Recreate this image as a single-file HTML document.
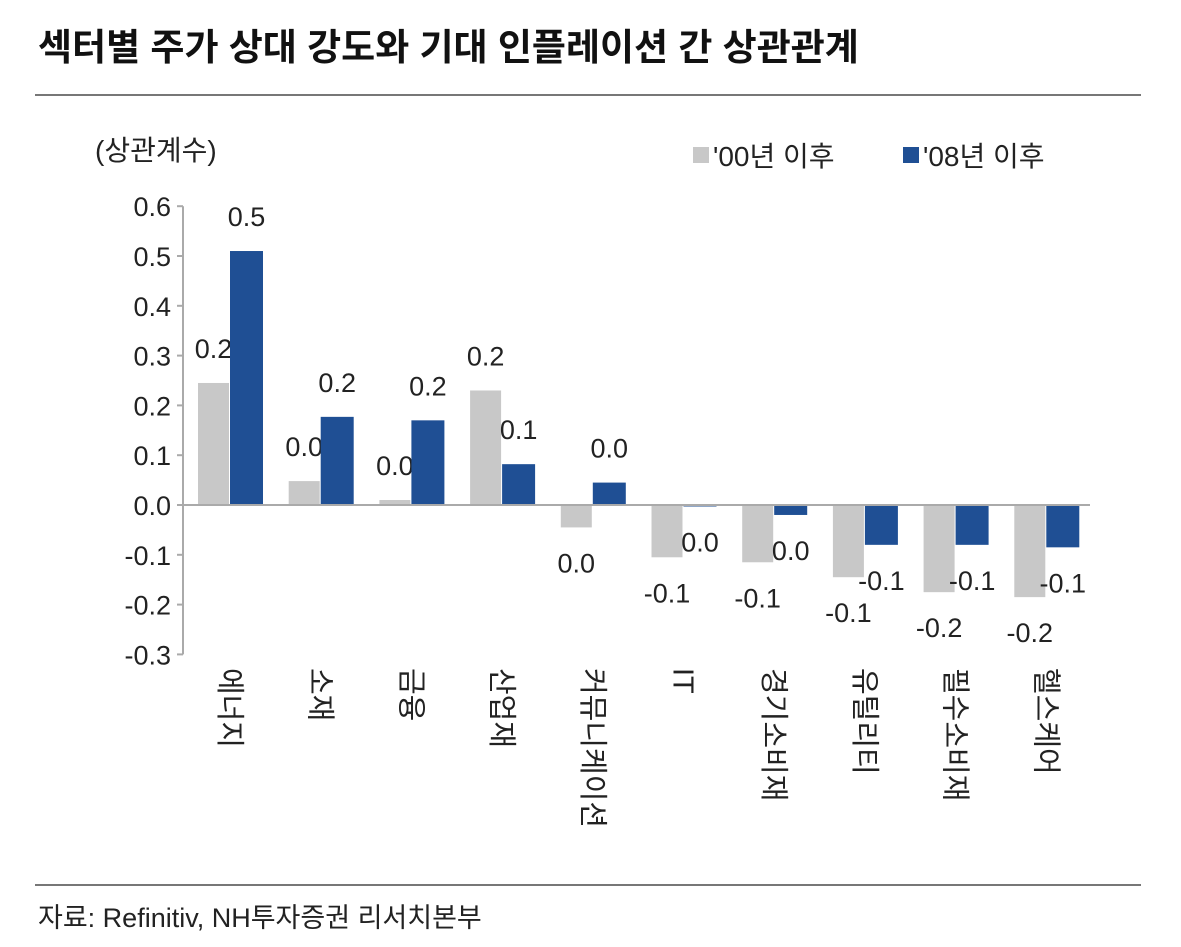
<!DOCTYPE html>
<html><head><meta charset="utf-8"><style>
body{margin:0;background:#fff;width:1181px;height:942px;overflow:hidden;font-family:"Liberation Sans","Noto Sans CJK KR",sans-serif;}
</style></head><body>
<svg width="1181" height="942" style="font-family:'Liberation Sans','Noto Sans CJK KR',sans-serif">
<text x="38" y="60" font-size="37" font-weight="bold" fill="#111">섹터별 주가 상대 강도와 기대 인플레이션 간 상관관계</text>
<line x1="35" y1="95" x2="1141" y2="95" stroke="#777" stroke-width="2"/>
<text x="95" y="160" font-size="28" fill="#222">(상관계수)</text>
<g>
<rect x="693" y="147" width="16" height="16" fill="#c8c8c8"/>
<text x="713" y="166" font-size="28" fill="#222">'00년 이후</text>
<rect x="903" y="147" width="16" height="16" fill="#1f4f94"/>
<text x="923" y="166" font-size="28" fill="#222">'08년 이후</text>
</g>
<g id="plot"></g>
<line x1="35" y1="885" x2="1141" y2="885" stroke="#777" stroke-width="2"/>
<text x="38" y="927" font-size="27" fill="#222">자료: Refinitiv, NH투자증권 리서치본부</text>
</svg>
<script>
const categories=["에너지","소재","금융","산업재","커뮤니케이션","IT","경기소비재","유틸리티","필수소비재","헬스케어"];
const series00=[0.245,0.048,0.01,0.23,-0.045,-0.105,-0.115,-0.145,-0.175,-0.185];
const series08=[0.51,0.177,0.17,0.082,0.045,-0.003,-0.02,-0.08,-0.08,-0.085];
const yTicks=[0.6,0.5,0.4,0.3,0.2,0.1,0.0,-0.1,-0.2,-0.3];
const NS="http://www.w3.org/2000/svg";
const g=document.getElementById('plot');
const y=v=>505-v*498;
const xStart=183,step=90.7;
function mk(t,a,txt){const e=document.createElementNS(NS,t);for(const k in a)e.setAttribute(k,a[k]);if(txt!==undefined)e.textContent=txt;g.appendChild(e);return e;}
let ax=mk('line',{x1:183,y1:y(0.6),x2:183,y2:y(-0.3),stroke:'#aaa','stroke-width':2});


yTicks.forEach(t=>{
 let l=mk('line',{x1:177,y1:y(t),x2:183,y2:y(t),stroke:'#aaa','stroke-width':2});
 
 
 let tx=mk('text',{x:171,y:y(t)+10,'font-size':27,'text-anchor':'end',fill:'#222'},t.toFixed(1));
 
 
});
categories.forEach((c,i)=>{
 const x0=xStart+i*step+15;
 [[series00[i],'#c8c8c8',x0,31,'bar-00'],[series08[i],'#1f4f94',x0+32,33,'bar-08']].forEach(([v,col,x,w,n])=>{
  const top=Math.min(y(v),y(0)),h=Math.max(Math.abs(y(v)-y(0)),1);
  let r=mk('rect',{x:x,y:top,width:w,height:h,fill:col});
  
  
  const ly=v>=0?y(v)-25:y(v)+45;
  let s=v.toFixed(1);
  if(s==='-0.0')s='0.0';
  let t=mk('text',{x:x+w/2,y:ly,'font-size':27,'text-anchor':'middle',fill:'#222'},s);
  
  
 });
 const cx=x0+32;
 let ct=mk('text',{x:0,y:0,'font-size':29,fill:'#222',transform:`translate(${cx-10},668) rotate(90)`},c);
 
 
});
let xa=mk('line',{x1:183,y1:y(0),x2:1090,y2:y(0),stroke:'#aaa','stroke-width':2});


</script>
</body></html>
